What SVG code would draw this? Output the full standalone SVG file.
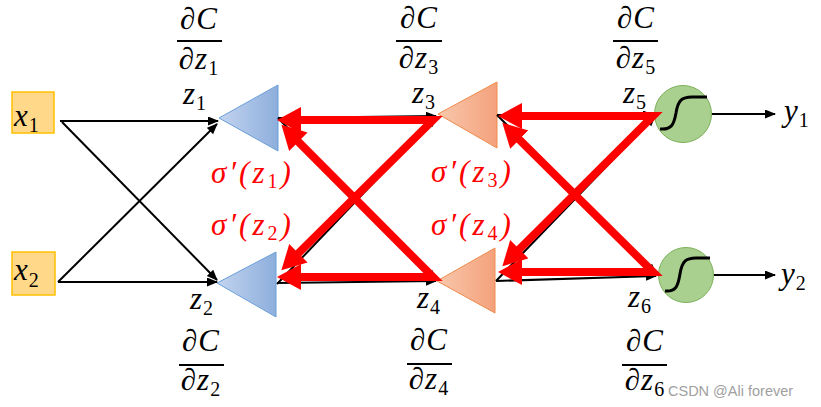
<svg xmlns="http://www.w3.org/2000/svg" width="821" height="407" viewBox="0 0 821 407">
<style>
.m{font-family:"Liberation Serif","DejaVu Serif",serif;font-style:italic;font-size:31px;letter-spacing:1px;fill:#000}
.s{font-style:normal;font-size:20px}
.r{fill:#FF0000;letter-spacing:3px}
.fl{stroke:#000;stroke-width:2}
.blk{stroke:#000;stroke-width:2;fill:none;marker-end:url(#ah)}
.red{stroke:#FF0000;stroke-width:8;fill:none;stroke-linejoin:miter;marker-start:url(#rh);marker-end:url(#rh)}
.tb{fill:url(#gb);stroke:#6A9FD8;stroke-width:1}
.to{fill:url(#go);stroke:#F08A4B;stroke-width:1}
.cg{fill:#A9D08E;stroke:#7CB15A;stroke-width:1}
.sg{fill:none;stroke:#000;stroke-width:3}
.bx{fill:#FFD88A;stroke:#FFC000;stroke-width:1.5}
.wm{font-family:"Liberation Sans",Arial,sans-serif;font-size:14.5px;fill:#A0A0A0}
</style>
<defs>
<linearGradient id="gb" x1="0" y1="0" x2="1" y2="0"><stop offset="0" stop-color="#C3D4EF"/><stop offset="1" stop-color="#8DAEDC"/></linearGradient>
<linearGradient id="go" x1="0" y1="0" x2="1" y2="0"><stop offset="0" stop-color="#F8C8AC"/><stop offset="1" stop-color="#F4A17C"/></linearGradient>
<marker id="ah" markerUnits="userSpaceOnUse" markerWidth="12" markerHeight="10" refX="10" refY="4.5" orient="auto"><path d="M0,0 L11,4.5 L0,9 z" fill="#000"/></marker>
<marker id="rh" markerUnits="userSpaceOnUse" markerWidth="26" markerHeight="28" refX="9" refY="13" orient="auto-start-reverse"><path d="M0,0 L24,13 L0,26 z" fill="#FF0000"/></marker>
</defs>

<g id="x1"><rect class="bx" x="12" y="92" width="42" height="41"/><text class="m" x="14" y="126">x<tspan class="s" dy="6">1</tspan></text></g>
<g id="x2"><rect class="bx" x="12" y="252" width="43" height="43"/><text class="m" x="14" y="280">x<tspan class="s" dy="7">2</tspan></text></g>

<g id="n1"><polygon class="tb" points="219,118 278,85 278,151"/></g>
<g id="n2"><polygon class="tb" points="217,283 276,252 276,317"/></g>
<g id="n3"><polygon class="to" points="438,114 497,82 497,148"/></g>
<g id="n4"><polygon class="to" points="437,281 495,248 495,313"/></g>
<g id="n5"><circle class="cg" cx="683" cy="114" r="28.5"/><path class="sg" d="M660,129 C672,130 674,124 676,113 C678,100 682,97 692,97 L707,97"/></g>
<g id="n6"><circle class="cg" cx="686" cy="275" r="27.5"/><path class="sg" d="M665,291 C676,292 678,286 680,274 C682,261 686,258 696,258 L710,258"/></g>

<g id="connectors">
<line class="blk" x1="60" y1="121" x2="218" y2="121"/>
<line class="blk" x1="62" y1="122" x2="217" y2="280"/>
<line class="blk" x1="58" y1="282" x2="217" y2="124"/>
<line class="blk" x1="58" y1="282" x2="217" y2="282"/>
<line class="blk" x1="278" y1="118" x2="436" y2="116"/>
<line class="blk" x1="278" y1="118" x2="436" y2="280"/>
<line class="blk" x1="277" y1="284" x2="436" y2="117"/>
<line class="blk" x1="277" y1="283" x2="436" y2="281"/>
<line class="blk" x1="497" y1="115" x2="653" y2="115"/>
<line class="blk" x1="497" y1="115" x2="656" y2="274"/>
<line class="blk" x1="496" y1="281" x2="655" y2="116"/>
<line class="blk" x1="496" y1="281" x2="656" y2="276"/>
<line class="blk" x1="712" y1="114" x2="775" y2="114"/>
<line class="blk" x1="714" y1="275" x2="775" y2="275"/>
<path class="red" d="M292,120 L433,120 L292,259.6"/>
<path class="red" d="M292,277 L433,277 L292,135.4"/>
<path class="red" d="M513,116 L653,116 L513,255.6"/>
<path class="red" d="M513,272 L653,272 L513,133.3"/>
</g>

<g id="labels">
<text class="m" x="183" y="104">z<tspan class="s" dy="6">1</tspan></text>
<text class="m" x="412" y="103">z<tspan class="s" dy="6">3</tspan></text>
<text class="m" x="623" y="103">z<tspan class="s" dy="6">5</tspan></text>
<text class="m" x="190" y="309">z<tspan class="s" dy="6">2</tspan></text>
<text class="m" x="417" y="308">z<tspan class="s" dy="6">4</tspan></text>
<text class="m" x="628" y="307">z<tspan class="s" dy="6">6</tspan></text>
<text class="m" x="784" y="121">y<tspan class="s" dy="6">1</tspan></text>
<text class="m" x="781" y="284">y<tspan class="s" dy="6">2</tspan></text>

<text class="m r" x="211" y="183">σ′(z<tspan class="s" dy="5">1</tspan><tspan dy="-5">)</tspan></text>
<text class="m r" x="211" y="235">σ′(z<tspan class="s" dy="5">2</tspan><tspan dy="-5">)</tspan></text>
<text class="m r" x="431" y="182">σ′(z<tspan class="s" dy="5">3</tspan><tspan dy="-5">)</tspan></text>
<text class="m r" x="431" y="235">σ′(z<tspan class="s" dy="5">4</tspan><tspan dy="-5">)</tspan></text>

<text class="m" x="199" y="29" text-anchor="middle">∂C</text><line class="fl" x1="177" y1="41" x2="222" y2="41"/><text class="m" x="199" y="69" text-anchor="middle">∂z<tspan class="s" dy="6">1</tspan></text>
<text class="m" x="419" y="28" text-anchor="middle">∂C</text><line class="fl" x1="396" y1="41" x2="442" y2="41"/><text class="m" x="419" y="68" text-anchor="middle">∂z<tspan class="s" dy="6">3</tspan></text>
<text class="m" x="636" y="28" text-anchor="middle">∂C</text><line class="fl" x1="613" y1="41" x2="658" y2="41"/><text class="m" x="636" y="68" text-anchor="middle">∂z<tspan class="s" dy="6">5</tspan></text>
<text class="m" x="201" y="351" text-anchor="middle">∂C</text><line class="fl" x1="179" y1="365" x2="224" y2="365"/><text class="m" x="201" y="390" text-anchor="middle">∂z<tspan class="s" dy="6">2</tspan></text>
<text class="m" x="429" y="350" text-anchor="middle">∂C</text><line class="fl" x1="407" y1="364" x2="452" y2="364"/><text class="m" x="429" y="389" text-anchor="middle">∂z<tspan class="s" dy="6">4</tspan></text>
<text class="m" x="645" y="351" text-anchor="middle">∂C</text><line class="fl" x1="622" y1="365" x2="667" y2="365"/><text class="m" x="645" y="390" text-anchor="middle">∂z<tspan class="s" dy="6">6</tspan></text>

<text class="wm" x="668" y="396">CSDN @Ali forever</text>
</g>
</svg>
